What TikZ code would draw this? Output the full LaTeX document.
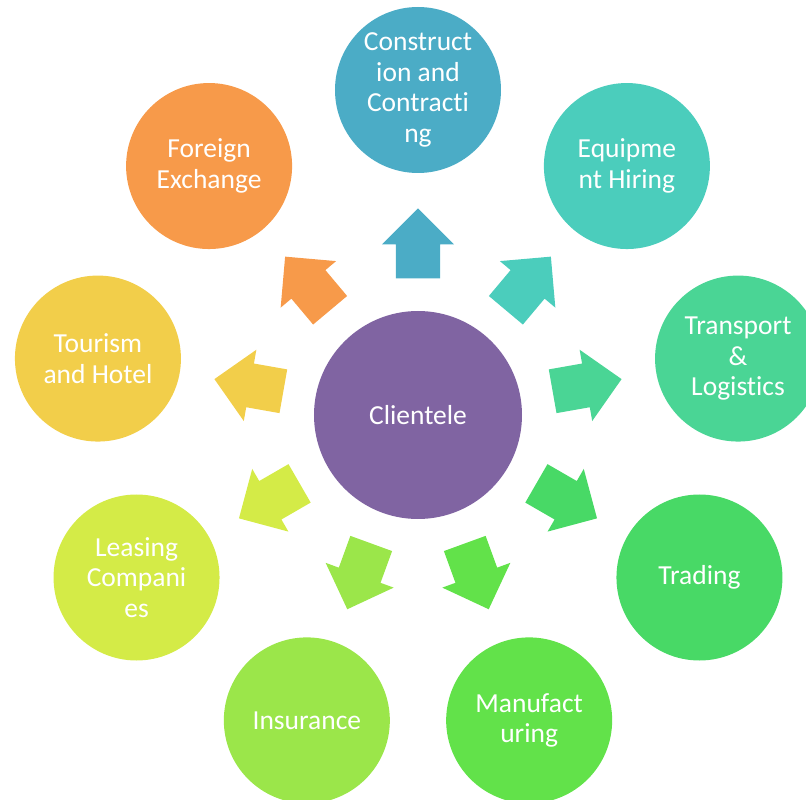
\documentclass[tikz,border=0pt]{standalone}
\usepackage{fontspec}
\setmainfont[RawFeature={-liga,-clig,-dlig,-calt,-rlig,-hlig}]{Carlito}
\usetikzlibrary{shapes.arrows}

\definecolor{hubpurple}{HTML}{8064A2}
\definecolor{constrblue}{HTML}{4BACC6}
\definecolor{equipteal}{HTML}{4BCDBC}
\definecolor{transgreen}{HTML}{4AD595}
\definecolor{tradegreen}{HTML}{48D966}
\definecolor{manugreen}{HTML}{62E24A}
\definecolor{insurgreen}{HTML}{9BE64A}
\definecolor{leaselime}{HTML}{D4EB47}
\definecolor{touryellow}{HTML}{F2CE4A}
\definecolor{forexorange}{HTML}{F79A4A}

\tikzstyle{hub} = [circle, minimum size=208pt, inner sep=0pt, text=white, fill=hubpurple, font=\fontsize{27.5}{30.5}\selectfont]
\tikzstyle{sector} = [circle, minimum size=166pt, inner sep=0pt, text=white, align=center, font=\fontsize{27.5}{30.5}\selectfont]
\tikzstyle{blockarrow} = [single arrow, single arrow head extend=14pt, minimum height=70pt, inner xsep=0pt, inner ysep=22pt, sloped, allow upside down, pos=0.41]

\begin{document}
\begin{tikzpicture}[x=1pt, y=1pt]
  \useasboundingbox (-418,-385) rectangle (388,415);

  \node (hub) [hub] at (0,0) {Clientele};

  \node (constr) [sector, fill=constrblue] at (90:325) {Construct\\ion and\\Contracti\\ng};
  \node (equip) [sector, fill=equipteal] at (50:325) {Equipme\\nt Hiring};
  \node (transport) [sector, fill=transgreen] at (10:325) {Transport\\\&\\Logistics};
  \node (trading) [sector, fill=tradegreen] at (-30:325) {Trading};
  \node (manufact) [sector, fill=manugreen] at (-70:325) {Manufact\\uring};
  \node (insurance) [sector, fill=insurgreen] at (-110:325) {Insurance};
  \node (leasing) [sector, fill=leaselime] at (-150:325) {Leasing\\Compani\\es};
  \node (tourism) [sector, fill=touryellow] at (170:325) {Tourism\\and Hotel};
  \node (forex) [sector, fill=forexorange] at (130:325) {Foreign\\Exchange};

  % block arrows from the hub outwards
  \path (hub) -- node[blockarrow, fill=constrblue] {} (constr);
  \path (hub) -- node[blockarrow, fill=equipteal] {} (equip);
  \path (hub) -- node[blockarrow, fill=transgreen] {} (transport);
  \path (hub) -- node[blockarrow, fill=tradegreen] {} (trading);
  \path (hub) -- node[blockarrow, fill=manugreen] {} (manufact);
  \path (hub) -- node[blockarrow, fill=insurgreen] {} (insurance);
  \path (hub) -- node[blockarrow, fill=leaselime] {} (leasing);
  \path (hub) -- node[blockarrow, fill=touryellow] {} (tourism);
  \path (hub) -- node[blockarrow, fill=forexorange] {} (forex);
\end{tikzpicture}
\end{document}
